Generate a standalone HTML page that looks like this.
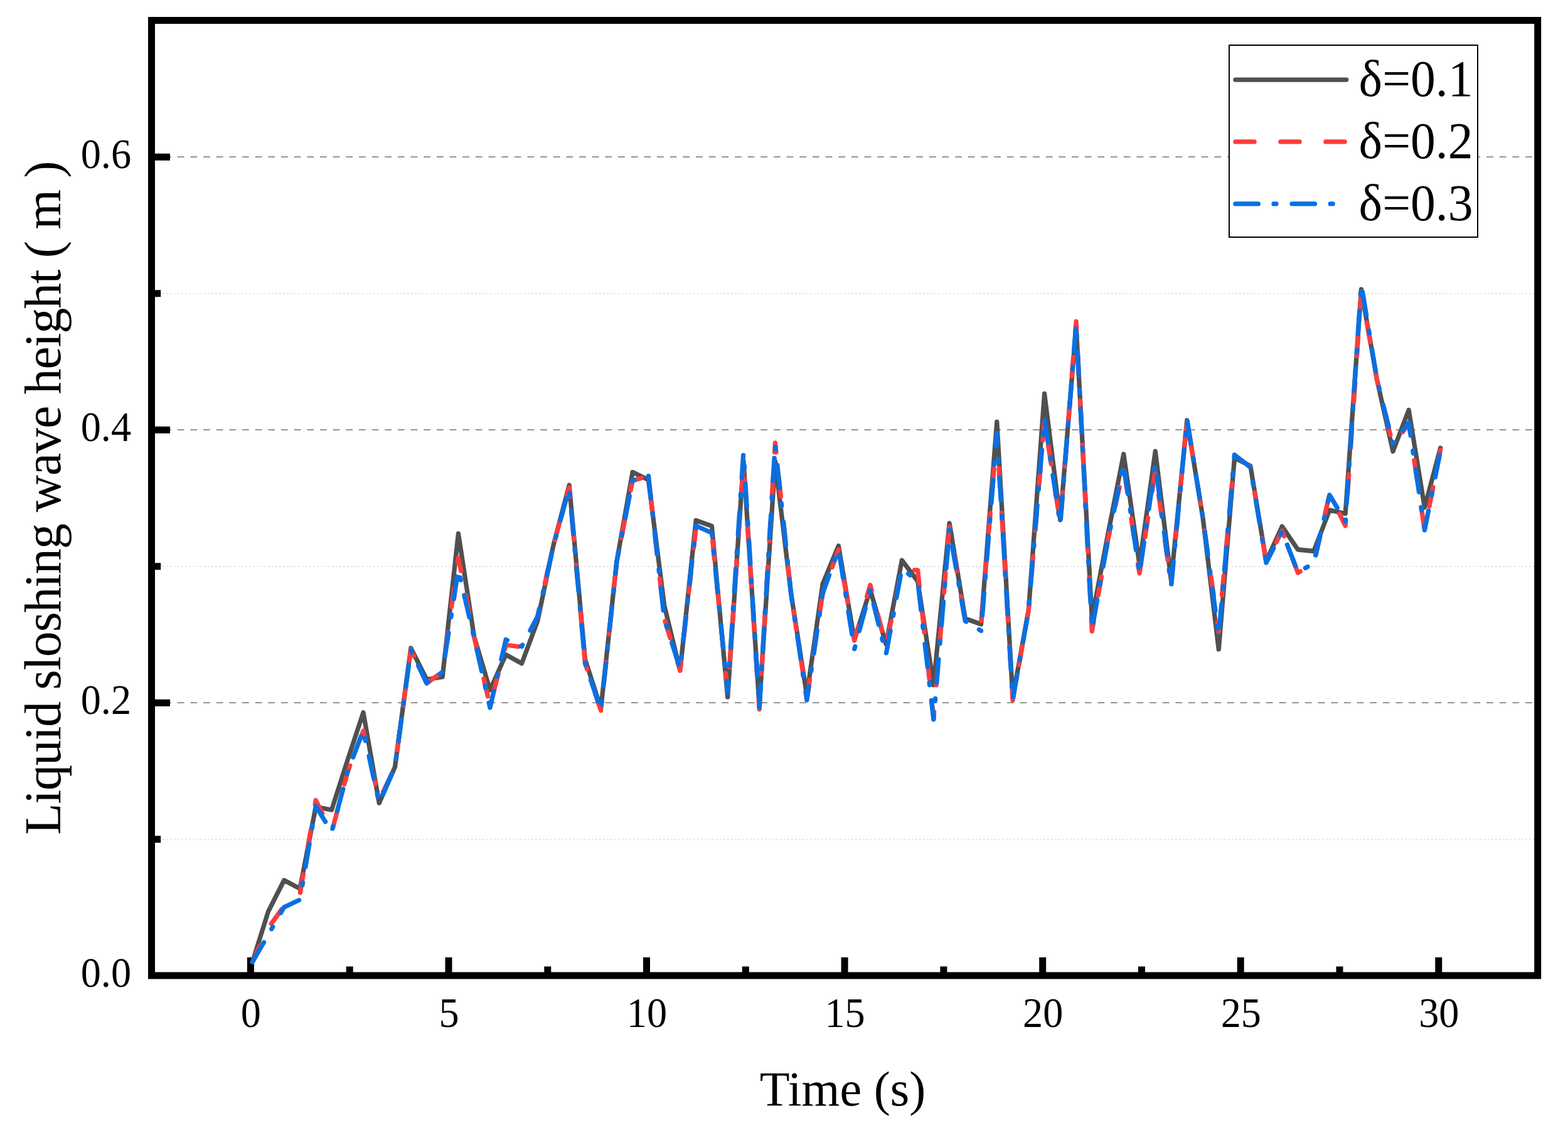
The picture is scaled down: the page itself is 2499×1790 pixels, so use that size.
<!DOCTYPE html>
<html lang="en"><head><meta charset="utf-8"><title>Liquid sloshing wave height</title>
<style>html,body{margin:0;padding:0;background:#fff;}body{width:2499px;height:1790px;overflow:hidden;}svg{display:block;}text{font-family:"Liberation Serif","DejaVu Serif",serif;fill:#000;}</style></head><body>
<svg width="2499" height="1790" viewBox="0 0 2499 1790">
<rect x="0" y="0" width="2499" height="1790" fill="#fff"/>
<g fill="none">
<line x1="241.5" y1="1120.1" x2="2450.7" y2="1120.1" stroke="#858585" stroke-width="1.9" stroke-dasharray="10.7 9.957"/>
<line x1="241.5" y1="685.1" x2="2450.7" y2="685.1" stroke="#858585" stroke-width="1.9" stroke-dasharray="10.7 9.957"/>
<line x1="241.5" y1="250.1" x2="2450.7" y2="250.1" stroke="#858585" stroke-width="1.9" stroke-dasharray="10.7 9.957"/>
<line x1="259.5" y1="1337.8" x2="2450.7" y2="1337.8" stroke="#c8c8c8" stroke-width="1.3" stroke-dasharray="2 4"/>
<line x1="259.5" y1="902.8" x2="2450.7" y2="902.8" stroke="#c8c8c8" stroke-width="1.3" stroke-dasharray="2 4"/>
<line x1="259.5" y1="467.8" x2="2450.7" y2="467.8" stroke="#c8c8c8" stroke-width="1.3" stroke-dasharray="2 4"/>
</g>
<rect x="241.5" y="32.5" width="2209.2" height="1522.5" fill="none" stroke="#000" stroke-width="11"/>
<g stroke="#000" stroke-width="11" fill="none">
<line x1="399.4" y1="1555.0" x2="399.4" y2="1526.0"/>
<line x1="715.0" y1="1555.0" x2="715.0" y2="1526.0"/>
<line x1="1030.5" y1="1555.0" x2="1030.5" y2="1526.0"/>
<line x1="1346.1" y1="1555.0" x2="1346.1" y2="1526.0"/>
<line x1="1661.7" y1="1555.0" x2="1661.7" y2="1526.0"/>
<line x1="1977.2" y1="1555.0" x2="1977.2" y2="1526.0"/>
<line x1="2292.8" y1="1555.0" x2="2292.8" y2="1526.0"/>
<line x1="557.2" y1="1555.0" x2="557.2" y2="1540.5"/>
<line x1="872.8" y1="1555.0" x2="872.8" y2="1540.5"/>
<line x1="1188.3" y1="1555.0" x2="1188.3" y2="1540.5"/>
<line x1="1503.9" y1="1555.0" x2="1503.9" y2="1540.5"/>
<line x1="1819.5" y1="1555.0" x2="1819.5" y2="1540.5"/>
<line x1="2135.0" y1="1555.0" x2="2135.0" y2="1540.5"/>
<line x1="241.5" y1="1120.3" x2="271.0" y2="1120.3"/>
<line x1="241.5" y1="685.3" x2="271.0" y2="685.3"/>
<line x1="241.5" y1="250.3" x2="271.0" y2="250.3"/>
<line x1="241.5" y1="1337.8" x2="256.2" y2="1337.8"/>
<line x1="241.5" y1="902.8" x2="256.2" y2="902.8"/>
<line x1="241.5" y1="467.8" x2="256.2" y2="467.8"/>
</g>
<g fill="none" stroke="#505050" stroke-width="7.3" stroke-linejoin="round" stroke-linecap="round">
<polyline points="402.3,1533.3 427.5,1453.0 452.8,1403.0 478.0,1416.5 503.3,1286.0 528.5,1291.0 553.8,1212.0 579.0,1135.6 604.3,1280.0 629.5,1222.5 654.8,1033.0 680.0,1083.0 705.2,1079.0 730.5,850.5 755.7,1015.0 781.0,1100.0 806.2,1043.5 831.5,1057.5 856.7,990.0 882.0,869.0 907.2,773.2 932.5,1051.0 957.7,1129.0 982.9,895.0 1008.2,752.5 1033.4,765.0 1058.7,965.0 1083.9,1068.8 1109.2,829.5 1134.4,838.5 1159.7,1111.2 1184.9,735.0 1210.2,1125.0 1235.4,735.0 1260.7,946.0 1285.9,1108.0 1311.1,931.0 1336.4,870.0 1361.6,1020.0 1386.9,940.0 1412.1,1027.0 1437.4,893.0 1462.6,926.5 1487.9,1092.0 1513.1,833.8 1538.4,986.0 1563.6,995.0 1588.8,672.5 1614.1,1112.0 1639.3,972.5 1664.6,627.5 1689.8,828.8 1715.1,520.0 1740.3,986.0 1765.6,852.5 1790.8,723.8 1816.1,900.0 1841.3,719.2 1866.5,925.0 1891.8,670.0 1917.0,825.0 1942.3,1035.0 1967.5,730.0 1992.8,742.5 2018.0,894.5 2043.3,839.0 2068.5,876.0 2093.8,878.5 2119.0,813.0 2144.2,818.8 2169.5,461.2 2194.7,606.0 2220.0,719.5 2245.2,653.5 2270.5,809.0 2295.7,714.0"/>
</g>
<g fill="none" stroke="#FF3C3C" stroke-width="7.3" stroke-linejoin="round" stroke-linecap="round">
<polyline points="402.3,1533.3 414.3,1507.4"/>
<polyline points="432.4,1472.3 449.2,1449.0"/>
<polyline points="478.4,1422.8 483.3,1393.8"/>
<polyline points="490.2,1352.7 495.3,1323.0"/>
<polyline points="502.2,1281.9 503.3,1275.5 513.7,1296.7"/>
<polyline points="530.5,1319.4 538.2,1290.3"/>
<polyline points="548.8,1250.0 553.8,1231.0 557.8,1220.5"/>
<polyline points="573.4,1179.7 579.0,1165.0 582.4,1179.7"/>
<polyline points="591.6,1220.3 598.3,1249.6"/>
<polyline points="610.5,1262.7 623.2,1235.5"/>
<polyline points="633.1,1195.5 637.1,1165.6"/>
<polyline points="642.7,1124.4 646.7,1094.5"/>
<polyline points="652.3,1053.2 654.8,1035.0 659.7,1045.6"/>
<polyline points="677.3,1083.3 680.0,1089.0 699.3,1075.3"/>
<polyline points="709.9,1037.4 714.0,1007.9"/>
<polyline points="719.7,967.1 723.8,937.6"/>
<polyline points="729.4,896.8 730.5,889.0 734.7,909.9"/>
<polyline points="742.4,948.7 747.9,976.7"/>
<polyline points="755.6,1015.5 755.7,1016.0 762.1,1043.4"/>
<polyline points="771.0,1081.9 777.4,1109.7"/>
<polyline points="787.0,1101.9 794.2,1074.2"/>
<polyline points="804.2,1036.0 806.2,1028.0 826.4,1030.6"/>
<polyline points="848.4,998.9 856.7,983.0 859.3,971.2"/>
<polyline points="868.3,930.5 874.8,901.2"/>
<polyline points="884.3,860.6 892.2,831.6"/>
<polyline points="903.2,791.5 907.2,777.0 908.5,791.5"/>
<polyline points="912.1,831.5 914.7,860.4"/>
<polyline points="918.3,900.5 921.0,929.4"/>
<polyline points="924.6,969.4 927.2,998.4"/>
<polyline points="930.8,1038.4 932.5,1057.0 935.7,1066.8"/>
<polyline points="948.5,1105.0 957.7,1132.5"/>
<polyline points="962.5,1087.8 965.9,1055.5"/>
<polyline points="970.6,1010.8 974.1,978.6"/>
<polyline points="978.8,933.9 982.2,901.6"/>
<polyline points="990.3,857.4 996.5,825.5"/>
<polyline points="1005.2,781.4 1008.2,766.0 1022.7,762.0"/>
<polyline points="1036.6,787.2 1039.7,815.5"/>
<polyline points="1044.1,854.8 1047.3,883.2"/>
<polyline points="1051.6,922.5 1054.8,950.9"/>
<polyline points="1059.9,990.0 1068.2,1017.3"/>
<polyline points="1079.8,1055.1 1083.9,1068.8 1085.6,1054.1"/>
<polyline points="1090.1,1013.4 1093.4,984.0"/>
<polyline points="1097.9,943.3 1101.2,913.9"/>
<polyline points="1105.7,873.2 1109.0,843.8"/>
<polyline points="1135.7,862.5 1138.6,892.0"/>
<polyline points="1142.7,932.7 1145.6,962.1"/>
<polyline points="1149.6,1002.8 1152.6,1032.3"/>
<polyline points="1156.6,1073.0 1159.6,1102.4"/>
<polyline points="1162.4,1063.7 1164.5,1034.2"/>
<polyline points="1167.3,993.4 1169.3,963.9"/>
<polyline points="1172.1,923.1 1174.2,893.6"/>
<polyline points="1177.0,852.7 1179.0,823.2"/>
<polyline points="1181.8,782.4 1183.9,752.9"/>
<polyline points="1186.6,764.0 1188.5,793.5"/>
<polyline points="1191.1,834.3 1193.0,863.8"/>
<polyline points="1195.6,904.7 1197.5,934.2"/>
<polyline points="1200.2,975.0 1202.1,1004.5"/>
<polyline points="1204.7,1045.4 1206.6,1074.9"/>
<polyline points="1209.2,1115.7 1210.2,1130.5 1211.0,1115.7"/>
<polyline points="1213.5,1074.6 1215.2,1044.9"/>
<polyline points="1217.7,1003.8 1219.5,974.2"/>
<polyline points="1221.9,933.1 1223.7,903.4"/>
<polyline points="1226.1,862.3 1227.9,832.7"/>
<polyline points="1230.3,791.6 1232.1,761.9"/>
<polyline points="1234.5,720.8 1235.4,706.0 1237.0,720.8"/>
<polyline points="1241.3,761.9 1244.4,791.6"/>
<polyline points="1248.7,832.7 1251.9,862.4"/>
<polyline points="1256.2,903.5 1259.3,933.2"/>
<polyline points="1264.9,974.1 1269.3,1003.7"/>
<polyline points="1275.5,1044.5 1279.9,1074.0"/>
<polyline points="1286.0,1113.1 1290.5,1083.6"/>
<polyline points="1296.6,1042.7 1301.0,1013.2"/>
<polyline points="1307.2,972.3 1311.1,946.0 1312.2,943.0"/>
<polyline points="1326.3,904.1 1336.4,876.0"/>
<polyline points="1344.9,924.8 1351.0,960.1"/>
<polyline points="1359.5,1008.9 1361.6,1021.0 1368.1,998.4"/>
<polyline points="1381.7,950.8 1386.9,932.5 1389.1,941.0"/>
<polyline points="1398.7,978.3 1405.7,1005.3"/>
<polyline points="1414.7,1017.3 1420.3,990.0"/>
<polyline points="1428.1,952.3 1433.7,925.0"/>
<polyline points="1457.5,908.6 1462.6,909.0 1465.4,934.7"/>
<polyline points="1469.9,977.4 1473.2,1008.2"/>
<polyline points="1477.8,1050.9 1481.1,1081.7"/>
<polyline points="1485.7,1124.4 1487.9,1145.0 1488.7,1134.7"/>
<polyline points="1492.3,1092.0 1494.8,1061.0"/>
<polyline points="1498.4,1018.3 1500.9,987.4"/>
<polyline points="1504.4,944.6 1507.0,913.7"/>
<polyline points="1510.5,870.9 1513.1,840.0"/>
<polyline points="1520.0,880.7 1524.9,910.1"/>
<polyline points="1531.7,950.8 1536.7,980.2"/>
<polyline points="1564.1,989.5 1566.5,959.8"/>
<polyline points="1569.9,918.7 1572.4,889.0"/>
<polyline points="1575.8,847.9 1578.3,818.1"/>
<polyline points="1581.7,777.0 1584.2,747.3"/>
<polyline points="1587.6,706.2 1588.8,691.0 1589.7,705.5"/>
<polyline points="1592.1,746.7 1593.9,776.4"/>
<polyline points="1596.4,817.6 1598.1,847.4"/>
<polyline points="1600.6,888.6 1602.3,918.3"/>
<polyline points="1604.8,959.5 1606.5,989.3"/>
<polyline points="1609.0,1030.4 1610.8,1060.2"/>
<polyline points="1613.2,1101.4 1614.1,1116.2 1616.7,1101.3"/>
<polyline points="1624.0,1060.1 1629.2,1030.3"/>
<polyline points="1636.4,989.0 1639.3,972.5 1640.5,959.1"/>
<polyline points="1643.9,917.3 1646.5,887.2"/>
<polyline points="1649.9,845.4 1652.5,815.3"/>
<polyline points="1655.9,773.5 1658.5,743.4"/>
<polyline points="1661.9,701.6 1664.5,671.5"/>
<polyline points="1670.7,709.9 1675.3,739.8"/>
<polyline points="1681.7,781.2 1686.3,811.2"/>
<polyline points="1691.3,815.3 1693.7,785.1"/>
<polyline points="1696.9,743.4 1699.3,713.2"/>
<polyline points="1702.6,671.4 1705.0,641.3"/>
<polyline points="1708.2,599.5 1710.6,569.3"/>
<polyline points="1713.9,527.6 1715.1,512.5 1715.8,527.3"/>
<polyline points="1717.9,568.2 1719.4,597.8"/>
<polyline points="1721.5,638.7 1723.0,668.3"/>
<polyline points="1725.1,709.2 1726.6,738.8"/>
<polyline points="1728.7,779.7 1730.3,809.3"/>
<polyline points="1732.3,850.2 1733.9,879.8"/>
<polyline points="1736.0,920.7 1737.5,950.3"/>
<polyline points="1739.6,991.2 1740.3,1006.0 1743.0,991.0"/>
<polyline points="1750.2,949.4 1755.5,919.3"/>
<polyline points="1762.8,877.7 1765.6,862.0 1768.6,847.8"/>
<polyline points="1777.5,806.5 1784.0,776.6"/>
<polyline points="1792.3,754.8 1796.8,784.9"/>
<polyline points="1803.0,826.7 1807.5,856.9"/>
<polyline points="1813.8,898.7 1816.1,913.8 1818.4,898.5"/>
<polyline points="1824.9,856.3 1829.6,825.7"/>
<polyline points="1836.1,783.5 1840.8,753.0"/>
<polyline points="1846.7,789.3 1851.0,819.9"/>
<polyline points="1856.8,862.2 1861.1,892.8"/>
<polyline points="1866.8,929.8 1869.7,899.1"/>
<polyline points="1873.8,856.6 1876.8,825.8"/>
<polyline points="1880.8,783.3 1883.8,752.6"/>
<polyline points="1887.8,710.0 1890.8,679.3"/>
<polyline points="1896.9,700.5 1901.8,731.0"/>
<polyline points="1908.7,773.2 1913.6,803.6"/>
<polyline points="1919.9,845.9 1924.2,876.5"/>
<polyline points="1930.0,918.8 1934.3,949.4"/>
<polyline points="1940.2,991.7 1942.3,1007.0 1943.7,991.5"/>
<polyline points="1947.5,948.7 1950.3,917.8"/>
<polyline points="1954.1,874.9 1956.9,844.0"/>
<polyline points="1960.8,801.2 1963.6,770.2"/>
<polyline points="1967.4,727.4 1967.5,726.0 1991.7,743.2"/>
<polyline points="1999.6,785.1 2004.7,815.7"/>
<polyline points="2011.7,858.1 2016.8,888.8"/>
<polyline points="2034.1,864.2 2043.3,846.0 2046.5,854.6"/>
<polyline points="2060.2,890.9 2068.5,913.0 2072.3,910.9"/>
<polyline points="2097.0,884.7 2103.3,857.1"/>
<polyline points="2111.9,818.8 2118.2,791.2"/>
<polyline points="2134.8,819.1 2144.2,838.0 2144.8,829.6"/>
<polyline points="2147.7,787.1 2149.8,756.4"/>
<polyline points="2152.6,713.9 2154.7,683.1"/>
<polyline points="2157.6,640.6 2159.7,609.9"/>
<polyline points="2162.6,567.4 2164.7,535.8"/>
<polyline points="2167.8,490.6 2169.5,465.0 2170.6,471.0"/>
<polyline points="2178.3,514.2 2183.9,545.4"/>
<polyline points="2191.6,588.7 2194.7,606.0 2198.1,619.7"/>
<polyline points="2208.4,662.4 2215.9,693.3"/>
<polyline points="2235.6,688.4 2245.2,675.0 2247.5,690.1"/>
<polyline points="2253.9,733.5 2258.6,764.9"/>
<polyline points="2265.0,808.4 2269.7,839.8"/>
<polyline points="2278.0,807.1 2284.0,776.7"/>
<polyline points="2292.1,735.7 2295.7,717.5"/>
</g>
<g fill="none" stroke="#0870E2" stroke-width="7.3" stroke-linejoin="round" stroke-linecap="round">
<polyline points="402.3,1533.3 420.5,1502.0"/>
<polyline points="432.8,1480.8 434.8,1477.3"/>
<polyline points="447.5,1455.2 452.8,1446.0 476.6,1434.7"/>
<polyline points="482.0,1410.8 482.6,1406.8"/>
<polyline points="486.9,1381.6 493.1,1345.0"/>
<polyline points="497.3,1320.1 498.0,1316.2"/>
<polyline points="502.1,1291.7 503.3,1285.0 518.6,1309.8"/>
<polyline points="529.9,1320.8 530.9,1316.9"/>
<polyline points="537.4,1292.6 546.8,1257.4"/>
<polyline points="553.1,1233.5 553.8,1231.0 554.3,1229.7"/>
<polyline points="562.8,1207.0 575.2,1174.1"/>
<polyline points="581.8,1176.8 582.6,1180.7"/>
<polyline points="588.0,1205.3 595.8,1241.1"/>
<polyline points="601.1,1265.4 601.9,1269.4"/>
<polyline points="610.0,1266.8 624.6,1233.2"/>
<polyline points="631.2,1209.5 631.7,1205.6"/>
<polyline points="635.0,1181.4 639.8,1146.4"/>
<polyline points="643.0,1122.6 643.5,1118.7"/>
<polyline points="646.8,1094.6 651.6,1059.5"/>
<polyline points="654.9,1036.3 656.5,1039.7"/>
<polyline points="666.6,1060.9 680.0,1089.0 682.4,1087.3"/>
<polyline points="701.2,1073.9 704.4,1071.6"/>
<polyline points="709.1,1046.2 714.9,1008.8"/>
<polyline points="718.8,983.5 719.4,979.5"/>
<polyline points="723.2,954.9 728.7,919.3"/>
<polyline points="733.4,920.6 734.3,924.5"/>
<polyline points="739.9,948.7 748.0,983.8"/>
<polyline points="753.6,1007.6 754.4,1011.4"/>
<polyline points="759.9,1035.2 767.7,1069.6"/>
<polyline points="773.0,1093.0 773.9,1096.8"/>
<polyline points="779.2,1120.3 781.0,1128.0 787.1,1101.6"/>
<polyline points="792.5,1078.4 793.4,1074.7"/>
<polyline points="798.9,1051.2 806.2,1019.5 808.5,1020.5"/>
<polyline points="830.3,1030.0 831.5,1030.5 832.7,1028.1"/>
<polyline points="845.0,1005.0 856.7,983.0 859.6,970.3"/>
<polyline points="865.2,945.2 866.1,941.2"/>
<polyline points="871.5,916.7 879.5,881.1"/>
<polyline points="885.5,857.1 886.6,853.3"/>
<polyline points="893.2,829.2 902.8,794.2"/>
<polyline points="907.9,785.8 908.3,789.8"/>
<polyline points="910.5,814.7 913.8,850.8"/>
<polyline points="916.0,875.3 916.4,879.4"/>
<polyline points="918.7,905.2 922.1,942.5"/>
<polyline points="924.4,967.9 924.8,971.9"/>
<polyline points="927.0,996.5 930.2,1032.1"/>
<polyline points="932.4,1056.3 932.5,1057.0 933.5,1060.0"/>
<polyline points="941.4,1083.7 953.0,1118.0"/>
<polyline points="958.7,1122.2 959.2,1118.2"/>
<polyline points="961.8,1093.4 965.7,1057.4"/>
<polyline points="968.3,1032.9 968.7,1029.0"/>
<polyline points="971.3,1004.1 975.2,968.1"/>
<polyline points="977.8,943.7 978.2,939.7"/>
<polyline points="980.9,914.5 982.9,895.0 986.2,878.2"/>
<polyline points="991.0,853.7 991.8,849.8"/>
<polyline points="996.5,825.8 1003.3,790.9"/>
<polyline points="1008.0,767.2 1008.2,766.0 1010.8,765.2"/>
<polyline points="1033.5,758.7 1037.4,794.1"/>
<polyline points="1040.1,818.0 1040.5,822.0"/>
<polyline points="1043.3,847.0 1047.3,883.3"/>
<polyline points="1050.0,907.9 1050.5,911.9"/>
<polyline points="1053.2,936.7 1057.2,972.8"/>
<polyline points="1062.1,996.8 1063.3,1000.6"/>
<polyline points="1070.7,1024.4 1081.6,1059.1"/>
<polyline points="1085.8,1049.8 1086.2,1045.8"/>
<polyline points="1089.0,1020.9 1092.9,984.9"/>
<polyline points="1095.7,960.4 1096.1,956.4"/>
<polyline points="1098.9,931.1 1102.9,894.5"/>
<polyline points="1105.7,869.6 1106.1,865.6"/>
<polyline points="1108.8,841.3 1109.2,838.0 1134.4,849.5 1134.9,854.0"/>
<polyline points="1137.3,878.0 1137.6,881.9"/>
<polyline points="1140.1,907.0 1143.7,943.3"/>
<polyline points="1146.2,967.9 1146.6,971.9"/>
<polyline points="1149.0,996.7 1152.6,1032.6"/>
<polyline points="1155.0,1057.0 1155.4,1061.0"/>
<polyline points="1157.9,1085.8 1159.7,1103.8 1160.9,1085.7"/>
<polyline points="1162.5,1061.2 1162.7,1057.3"/>
<polyline points="1164.4,1032.4 1166.8,996.3"/>
<polyline points="1168.4,971.8 1168.6,967.9"/>
<polyline points="1170.3,942.8 1172.7,906.5"/>
<polyline points="1174.3,881.9 1174.6,877.9"/>
<polyline points="1176.3,852.6 1178.7,816.0"/>
<polyline points="1180.3,791.1 1180.6,787.1"/>
<polyline points="1182.2,762.0 1184.6,725.7"/>
<polyline points="1186.2,742.0 1186.4,746.0"/>
<polyline points="1188.0,771.0 1190.2,807.4"/>
<polyline points="1191.8,832.1 1192.0,836.1"/>
<polyline points="1193.6,861.6 1195.9,898.6"/>
<polyline points="1197.4,923.7 1197.7,927.7"/>
<polyline points="1199.2,952.5 1201.5,988.5"/>
<polyline points="1203.0,1012.9 1203.2,1016.9"/>
<polyline points="1204.8,1041.7 1207.0,1077.7"/>
<polyline points="1208.5,1102.1 1208.7,1106.0"/>
<polyline points="1210.3,1126.7 1212.4,1090.7"/>
<polyline points="1213.9,1066.3 1214.2,1062.3"/>
<polyline points="1215.6,1037.5 1217.8,1001.6"/>
<polyline points="1219.3,977.1 1219.5,973.2"/>
<polyline points="1221.0,947.9 1223.2,911.2"/>
<polyline points="1224.7,886.4 1225.0,882.3"/>
<polyline points="1226.5,857.1 1228.7,820.4"/>
<polyline points="1230.2,795.5 1230.4,791.5"/>
<polyline points="1231.9,766.5 1234.1,730.1"/>
<polyline points="1235.8,712.5 1236.2,716.5"/>
<polyline points="1238.9,741.4 1242.7,777.6"/>
<polyline points="1245.3,802.2 1245.8,806.2"/>
<polyline points="1248.5,831.7 1252.4,868.7"/>
<polyline points="1255.1,893.8 1255.5,897.9"/>
<polyline points="1258.2,923.2 1260.7,946.0 1262.7,959.9"/>
<polyline points="1266.4,984.7 1267.0,988.7"/>
<polyline points="1270.7,1013.4 1276.0,1049.3"/>
<polyline points="1279.6,1073.7 1280.2,1077.6"/>
<polyline points="1283.9,1102.4 1285.9,1116.0 1289.2,1093.8"/>
<polyline points="1292.8,1069.4 1293.4,1065.5"/>
<polyline points="1297.1,1040.7 1302.4,1004.9"/>
<polyline points="1306.0,980.5 1306.6,976.5"/>
<polyline points="1310.3,951.5 1311.1,946.0 1321.6,916.6"/>
<polyline points="1329.9,893.1 1331.3,889.3"/>
<polyline points="1338.0,885.0 1343.7,921.3"/>
<polyline points="1347.6,945.9 1348.2,949.9"/>
<polyline points="1352.1,974.8 1357.9,1011.0"/>
<polyline points="1361.8,1034.4 1362.8,1030.5"/>
<polyline points="1369.5,1005.5 1379.3,969.3"/>
<polyline points="1385.9,944.7 1386.9,941.0 1386.9,941.0"/>
<polyline points="1392.4,963.3 1400.4,995.5"/>
<polyline points="1405.8,1017.4 1406.7,1021.1"/>
<polyline points="1412.5,1040.8 1419.0,1005.4"/>
<polyline points="1423.5,981.4 1424.2,977.5"/>
<polyline points="1428.7,952.9 1435.3,917.3"/>
<polyline points="1447.5,914.3 1450.6,916.8"/>
<polyline points="1463.7,936.2 1467.9,972.4"/>
<polyline points="1470.7,997.0 1471.2,1001.0"/>
<polyline points="1474.1,1026.3 1478.3,1063.0"/>
<polyline points="1481.1,1087.9 1481.6,1091.9"/>
<polyline points="1484.4,1116.4 1487.9,1146.8 1488.3,1141.6"/>
<polyline points="1490.3,1117.4 1490.7,1113.4"/>
<polyline points="1492.8,1087.9 1495.9,1050.8"/>
<polyline points="1498.0,1025.7 1498.3,1021.6"/>
<polyline points="1500.5,996.1 1503.6,959.1"/>
<polyline points="1505.7,934.0 1506.0,930.0"/>
<polyline points="1508.0,905.8 1511.0,870.7"/>
<polyline points="1512.9,846.9 1513.1,845.0 1513.4,846.9"/>
<polyline points="1517.6,870.9 1523.7,905.7"/>
<polyline points="1527.8,929.3 1528.4,933.1"/>
<polyline points="1532.6,957.1 1538.4,990.0 1539.9,991.0"/>
<polyline points="1560.4,1003.5 1563.6,1005.5 1563.6,1005.4"/>
<polyline points="1565.6,981.0 1568.4,945.6"/>
<polyline points="1570.3,921.6 1570.7,917.6"/>
<polyline points="1572.7,892.3 1575.6,855.7"/>
<polyline points="1577.6,830.8 1577.9,826.8"/>
<polyline points="1580.0,801.6 1582.9,765.2"/>
<polyline points="1584.9,740.5 1585.2,736.5"/>
<polyline points="1587.2,711.3 1588.8,691.0 1589.8,707.2"/>
<polyline points="1591.3,731.9 1591.5,735.9"/>
<polyline points="1593.0,761.1 1595.2,797.6"/>
<polyline points="1596.7,822.4 1596.9,826.4"/>
<polyline points="1598.4,851.7 1600.6,888.3"/>
<polyline points="1602.1,913.2 1602.3,917.2"/>
<polyline points="1603.8,942.2 1606.0,978.5"/>
<polyline points="1607.4,1003.2 1607.7,1007.1"/>
<polyline points="1609.1,1031.5 1611.2,1067.0"/>
<polyline points="1612.7,1091.0 1612.9,1094.9"/>
<polyline points="1614.8,1110.7 1621.0,1075.8"/>
<polyline points="1625.2,1052.1 1625.9,1048.2"/>
<polyline points="1630.4,1023.2 1636.8,987.0"/>
<polyline points="1640.2,962.3 1640.5,958.2"/>
<polyline points="1642.6,932.9 1645.6,896.3"/>
<polyline points="1647.7,871.4 1648.0,867.4"/>
<polyline points="1650.1,842.1 1653.2,805.5"/>
<polyline points="1655.2,780.6 1655.5,776.6"/>
<polyline points="1657.6,752.3 1660.5,716.9"/>
<polyline points="1662.5,692.9 1662.8,689.0"/>
<polyline points="1665.0,670.4 1670.3,705.4"/>
<polyline points="1673.8,729.3 1674.4,733.1"/>
<polyline points="1678.0,757.3 1683.3,792.4"/>
<polyline points="1686.9,816.2 1687.4,820.1"/>
<polyline points="1690.5,827.1 1693.4,790.9"/>
<polyline points="1695.3,766.4 1695.6,762.4"/>
<polyline points="1697.6,737.7 1700.4,701.8"/>
<polyline points="1702.3,677.4 1702.6,673.5"/>
<polyline points="1704.6,648.8 1707.4,612.9"/>
<polyline points="1709.3,588.5 1709.7,584.6"/>
<polyline points="1711.6,559.8 1714.4,523.9"/>
<polyline points="1715.9,532.4 1716.1,536.4"/>
<polyline points="1717.4,561.2 1719.3,597.1"/>
<polyline points="1720.5,621.5 1720.7,625.5"/>
<polyline points="1722.1,651.3 1724.0,688.7"/>
<polyline points="1725.3,714.0 1725.5,718.1"/>
<polyline points="1726.9,743.3 1728.8,779.9"/>
<polyline points="1730.0,804.8 1730.2,808.8"/>
<polyline points="1731.5,833.8 1733.4,870.1"/>
<polyline points="1734.7,894.7 1734.9,898.7"/>
<polyline points="1736.2,923.8 1738.1,960.2"/>
<polyline points="1739.4,984.9 1739.6,988.9"/>
<polyline points="1742.3,992.2 1748.7,956.3"/>
<polyline points="1753.0,932.0 1753.7,928.0"/>
<polyline points="1758.2,903.2 1764.6,867.2"/>
<polyline points="1769.5,842.9 1770.3,839.0"/>
<polyline points="1775.3,814.5 1782.6,779.0"/>
<polyline points="1787.5,754.9 1788.3,751.0"/>
<polyline points="1792.6,751.6 1797.8,787.5"/>
<polyline points="1801.3,811.8 1801.8,815.7"/>
<polyline points="1805.4,840.5 1810.5,876.4"/>
<polyline points="1814.0,900.7 1814.6,904.6"/>
<polyline points="1818.1,900.6 1823.3,864.8"/>
<polyline points="1826.8,840.4 1827.4,836.4"/>
<polyline points="1831.0,811.2 1836.3,774.6"/>
<polyline points="1839.9,749.8 1840.5,745.8"/>
<polyline points="1843.8,759.1 1848.5,795.2"/>
<polyline points="1851.7,819.8 1852.2,823.7"/>
<polyline points="1855.4,848.2 1860.0,883.8"/>
<polyline points="1863.2,907.9 1863.7,911.8"/>
<polyline points="1866.8,931.2 1870.2,895.5"/>
<polyline points="1872.5,871.3 1872.9,867.3"/>
<polyline points="1875.3,842.3 1878.7,806.1"/>
<polyline points="1881.0,781.5 1881.5,776.6"/>
<polyline points="1883.8,752.4 1887.2,717.4"/>
<polyline points="1889.4,693.6 1889.8,689.8"/>
<polyline points="1892.3,671.8 1897.9,706.6"/>
<polyline points="1901.7,730.1 1902.3,734.0"/>
<polyline points="1906.3,758.6 1912.1,794.4"/>
<polyline points="1916.0,818.6 1916.6,822.6"/>
<polyline points="1920.1,847.9 1925.0,884.6"/>
<polyline points="1928.4,909.6 1928.9,913.5"/>
<polyline points="1932.2,938.1 1937.0,973.7"/>
<polyline points="1940.2,997.8 1940.8,1001.8"/>
<polyline points="1943.5,999.3 1946.7,963.0"/>
<polyline points="1948.8,938.3 1949.2,934.3"/>
<polyline points="1951.4,909.1 1954.6,872.4"/>
<polyline points="1956.8,847.5 1957.1,843.5"/>
<polyline points="1959.3,818.5 1962.5,782.3"/>
<polyline points="1964.7,757.7 1965.0,753.8"/>
<polyline points="1967.1,729.3 1967.5,725.0 1992.1,744.4"/>
<polyline points="1996.6,768.0 1997.4,772.6"/>
<polyline points="2001.6,797.9 2007.6,834.5"/>
<polyline points="2011.8,859.4 2012.4,863.3"/>
<polyline points="2016.4,887.5 2018.0,897.0 2029.7,873.8"/>
<polyline points="2040.6,852.3 2042.4,848.7"/>
<polyline points="2051.5,868.3 2064.6,901.9"/>
<polyline points="2080.4,905.4 2084.1,903.3"/>
<polyline points="2096.8,884.9 2104.8,850.4"/>
<polyline points="2110.2,827.0 2111.1,823.2"/>
<polyline points="2116.5,799.7 2119.0,789.0 2131.3,809.5"/>
<polyline points="2143.5,829.8 2144.2,831.0 2144.4,828.5"/>
<polyline points="2146.1,803.3 2148.5,766.9"/>
<polyline points="2150.2,742.2 2150.4,738.2"/>
<polyline points="2152.1,713.1 2154.6,676.6"/>
<polyline points="2156.2,651.9 2156.5,647.9"/>
<polyline points="2158.1,622.9 2160.6,586.6"/>
<polyline points="2162.2,561.9 2162.5,557.9"/>
<polyline points="2164.2,532.3 2166.7,495.2"/>
<polyline points="2168.4,470.0 2168.6,466.0"/>
<polyline points="2171.6,465.5 2177.6,502.2"/>
<polyline points="2181.7,527.1 2182.4,531.1"/>
<polyline points="2186.5,556.1 2192.5,592.5"/>
<polyline points="2197.5,616.9 2198.4,620.8"/>
<polyline points="2204.5,645.2 2213.3,680.4"/>
<polyline points="2219.3,704.3 2220.0,707.0 2220.7,706.0"/>
<polyline points="2235.8,686.1 2245.2,673.8 2248.2,694.2"/>
<polyline points="2251.8,718.5 2252.4,722.5"/>
<polyline points="2256.1,747.7 2261.5,784.3"/>
<polyline points="2265.2,809.1 2265.8,813.2"/>
<polyline points="2269.6,838.9 2270.5,845.0 2276.6,814.2"/>
<polyline points="2281.7,789.2 2282.5,785.2"/>
<polyline points="2287.4,760.6 2294.5,724.9"/>
</g>
<g font-size="67" text-anchor="middle">
<text transform="translate(399.9 1637.0) scale(0.960 1)">0</text>
<text transform="translate(715.5 1637.0) scale(0.960 1)">5</text>
<text transform="translate(1031.0 1637.0) scale(0.960 1)">10</text>
<text transform="translate(1346.6 1637.0) scale(0.960 1)">15</text>
<text transform="translate(1662.2 1637.0) scale(0.960 1)">20</text>
<text transform="translate(1977.8 1637.0) scale(0.960 1)">25</text>
<text transform="translate(2293.3 1637.0) scale(0.960 1)">30</text>
</g>
<g font-size="67" text-anchor="end">
<text transform="translate(209.1 1573.0) scale(0.960 1)">0.0</text>
<text transform="translate(209.1 1138.0) scale(0.960 1)">0.2</text>
<text transform="translate(209.1 703.0) scale(0.960 1)">0.4</text>
<text transform="translate(209.1 268.0) scale(0.960 1)">0.6</text>
</g>
<text x="1343.0" y="1761.8" font-size="78.3" text-anchor="middle">Time (s)</text>
<text transform="translate(95.7 1330.5) rotate(-90)" font-size="82" textLength="1074.0" lengthAdjust="spacing" xml:space="preserve">Liquid sloshing wave height ( m )</text>
<rect x="1959" y="72" width="396" height="306" fill="#fff" stroke="#000" stroke-width="2"/>
<g fill="none" stroke-width="7.3" stroke-linecap="round">
<line x1="1968.9" y1="127.1" x2="2145.8" y2="127.1" stroke="#505050"/>
<line x1="1968.9" y1="225.9" x2="2145.8" y2="225.9" stroke="#FF3C3C" stroke-dasharray="30.2 41.8"/>
<line x1="1968.9" y1="324.9" x2="2145.8" y2="324.9" stroke="#0870E2" stroke-dasharray="36.4 24.7 4 25.1"/>
</g>
<g font-size="81.7">
<text transform="translate(2165.6 153.0) scale(0.975 1)">δ=0.1</text>
<text transform="translate(2165.6 251.9) scale(0.975 1)">δ=0.2</text>
<text transform="translate(2165.6 350.8) scale(0.975 1)">δ=0.3</text>
</g>
</svg></body></html>
